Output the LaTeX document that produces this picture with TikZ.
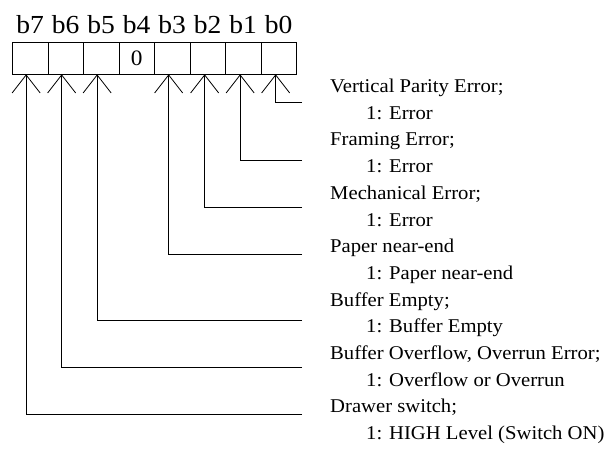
\documentclass[tikz,border=0pt]{standalone}
\usepackage{fontspec}
\setmainfont{Liberation Serif}[FakeStretch=1.06]
\usetikzlibrary{arrows.meta}

\begin{document}
\begin{tikzpicture}[x=1pt, y=-1pt,
    cell/.style={draw, line width=0.8pt, minimum width=35.5pt, minimum height=31.5pt, inner sep=0pt, anchor=north west, font=\fontsize{22}{22}\selectfont},
    bitlabel/.style={anchor=base, inner sep=0pt, font=\fontsize{26}{26}\selectfont},
    desc/.style={anchor=base west, inner sep=0pt, font=\fontsize{19.5}{19.5}\selectfont},
    sig/.style={-{Straight Barb[length=18pt, width=28pt]}, line width=0.8pt}]
    \useasboundingbox (0,0) rectangle (614,450);

    % register cells
    \node[cell] (bit7) at (12,42) {};
    \node[cell] (bit6) at (47.5,42) {};
    \node[cell] (bit5) at (83,42) {};
    \node[cell] (bit4) at (118.5,42) {0};
    \node[cell] (bit3) at (154,42) {};
    \node[cell] (bit2) at (189.5,42) {};
    \node[cell] (bit1) at (225,42) {};
    \node[cell] (bit0) at (260.5,42) {};

    % bit numbers
    \node[bitlabel] (lab7) at ([yshift=9pt]bit7.north) {b7};
    \node[bitlabel] (lab6) at ([yshift=9pt]bit6.north) {b6};
    \node[bitlabel] (lab5) at ([yshift=9pt]bit5.north) {b5};
    \node[bitlabel] (lab4) at ([yshift=9pt]bit4.north) {b4};
    \node[bitlabel] (lab3) at ([yshift=9pt]bit3.north) {b3};
    \node[bitlabel] (lab2) at ([yshift=9pt]bit2.north) {b2};
    \node[bitlabel] (lab1) at ([yshift=9pt]bit1.north) {b1};
    \node[bitlabel] (lab0) at ([yshift=9pt]bit0.north) {b0};

    % descriptions
    \node[desc] (desc0) at (330,92.5) {Vertical Parity Error;};
    \node[desc] (val0) at (366,119.2) {1: Error};
    \node[desc] (desc1) at (330,145.9) {Framing Error;};
    \node[desc] (val1) at (366,172.6) {1: Error};
    \node[desc] (desc2) at (330,199.3) {Mechanical Error;};
    \node[desc] (val2) at (366,226) {1: Error};
    \node[desc] (desc3) at (330,252.7) {Paper near-end};
    \node[desc] (val3) at (366,279.4) {1: Paper near-end};
    \node[desc] (desc5) at (330,306.1) {Buffer Empty;};
    \node[desc] (val5) at (366,332.8) {1: Buffer Empty};
    \node[desc] (desc6) at (330,359.5) {Buffer Overflow, Overrun Error;};
    \node[desc] (val6) at (366,386.2) {1: Overflow or Overrun};
    \node[desc] (desc7) at (330,412.9) {Drawer switch;};
    \node[desc] (val7) at (366,439.6) {1: HIGH Level (Switch ON)};

    % signal lines
    \coordinate (end0) at (302,102.3);
    \coordinate (end1) at (302,160.7);
    \coordinate (end2) at (302,207.7);
    \coordinate (end3) at (302,254.3);
    \coordinate (end5) at (302,320.7);
    \coordinate (end6) at (302,367.7);
    \coordinate (end7) at (302,414.7);

    \draw[sig] (end0) -| ([xshift=-3pt]bit0.south);
    \draw[sig] (end1) -| ([xshift=-3pt]bit1.south);
    \draw[sig] (end2) -| ([xshift=-3pt]bit2.south);
    \draw[sig] (end3) -| ([xshift=-3.5pt]bit3.south);
    \draw[sig] (end5) -| ([xshift=-4pt]bit5.south);
    \draw[sig] (end6) -| ([xshift=-4pt]bit6.south);
    \draw[sig] (end7) -| ([xshift=-4pt]bit7.south);
\end{tikzpicture}
\end{document}
